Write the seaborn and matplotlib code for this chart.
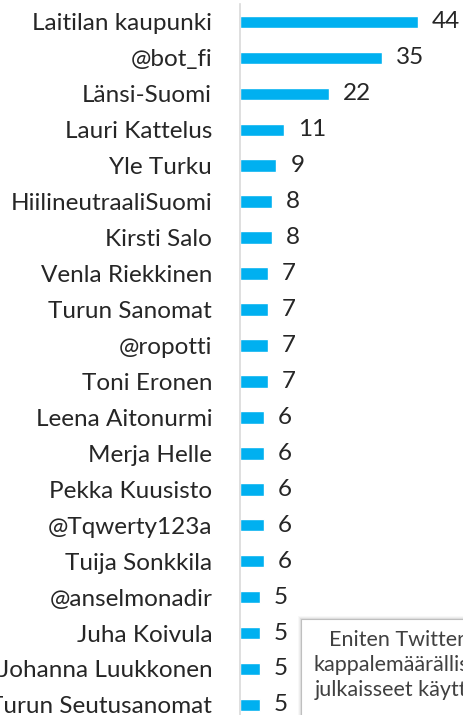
import matplotlib
matplotlib.use("Agg")
import matplotlib.pyplot as plt
import seaborn as sns
import pandas as pd
from matplotlib.patches import Rectangle

names = ["Laitilan kaupunki", "@bot_fi", "Länsi-Suomi", "Lauri Kattelus", "Yle Turku",
         "HiilineutraaliSuomi", "Kirsti Salo", "Venla Riekkinen", "Turun Sanomat", "@ropotti",
         "Toni Eronen", "Leena Aitonurmi", "Merja Helle", "Pekka Kuusisto", "@Tqwerty123a",
         "Tuija Sonkkila", "@anselmonadir", "Juha Koivula", "Johanna Luukkonen", "Turun Seutusanomat"]
counts = [44, 35, 22, 11, 9, 8, 8, 7, 7, 7, 7, 6, 6, 6, 6, 6, 5, 5, 5, 5]
note_lines = ["Eniten Twitteriin", "kappalemäärällisesti", "julkaisseet käyttäjät"]

df = pd.DataFrame({"name": names, "count": counts})

sns.set_style("white")
plt.rcParams["font.family"] = ["Lato", "DejaVu Sans"]

W, H = 464, 715
fig = plt.figure(figsize=(W / 100, H / 100), dpi=100)
ax = fig.add_axes([240 / W, 0, (W - 240) / W, 711 / H])

sns.barplot(data=df, x="count", y="name", orient="h", color="#00b0f0",
            width=0.35, saturation=1, ax=ax)
ax.bar_label(ax.containers[0], padding=10, fontsize=17.5, color="#262626")

ax.set_xlim(0, (W - 240) / 4.045)
ax.set_ylim(19.28, -0.5)
ax.set_xlabel("")
ax.set_ylabel("")
ax.set_xticks([])
for s in ["top", "right", "bottom"]:
    ax.spines[s].set_visible(False)
ax.spines["left"].set_color("#d9d9d9")
ax.spines["left"].set_linewidth(1.2)
ax.tick_params(axis="y", length=0, pad=20, labelsize=17.5, labelcolor="#262626")

# note box (partly outside the figure, as in the reference)
for i, a in enumerate([0.05, 0.08, 0.12]):
    fig.patches.append(Rectangle(((301 - 3 + i) / W, (H - 900) / H), 400 / W, (900 - 619 + 3 - i) / H,
                                 transform=fig.transFigure, facecolor="#808080", alpha=a,
                                 edgecolor="none", zorder=5))
fig.patches.append(Rectangle((301 / W, (H - 900) / H), 400 / W, (900 - 619) / H,
                             transform=fig.transFigure, facecolor="white",
                             edgecolor="#bfbfbf", linewidth=0.8, zorder=6))
fig.text(408 / W, (H - 630) / H, "\n".join(note_lines), ha="center", va="top",
         fontsize=15.5, color="#404040", linespacing=1.3, zorder=7)

fig.savefig("out.png", dpi=100)
